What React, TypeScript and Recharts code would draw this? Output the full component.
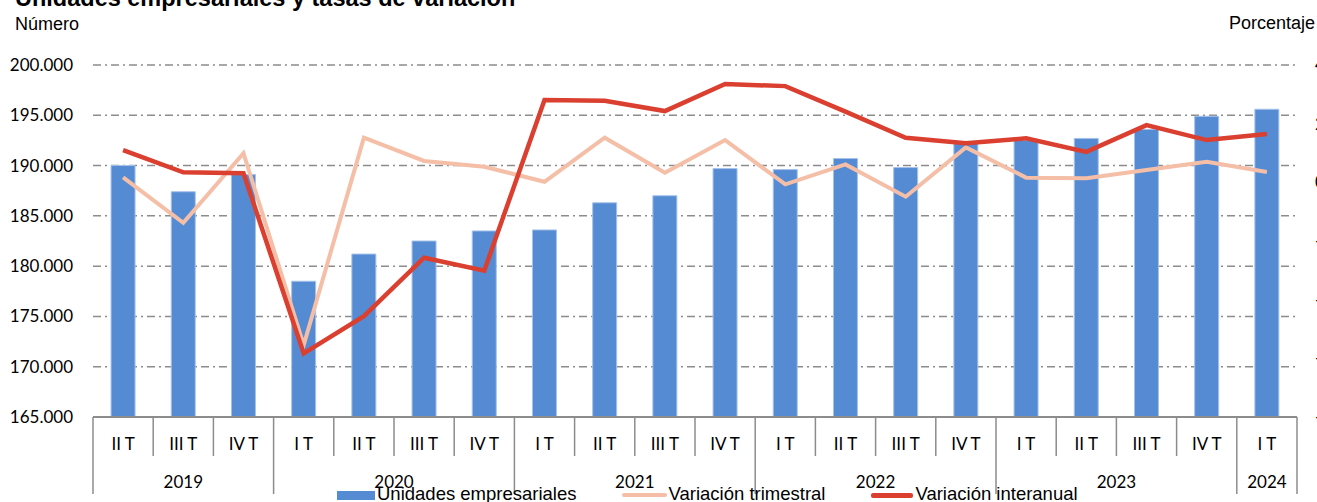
import React from "react";
import { Bar, CartesianGrid, ComposedChart, Legend, Line, XAxis, YAxis } from "recharts";

// Categorías: trimestres y años
const yearLabels = ["2019", "2020", "2021", "2022", "2023", "2024"];
const quartersPerYear = [3, 4, 4, 4, 4, 1];
const quarterLabels = [
  "II T", "III T", "IV T",
  "I T", "II T", "III T", "IV T",
  "I T", "II T", "III T", "IV T",
  "I T", "II T", "III T", "IV T",
  "I T", "II T", "III T", "IV T",
  "I T",
];

// Series
const unidades = [
  190000, 187400, 189100,
  178500, 181200, 182500, 183500,
  183600, 186300, 187000, 189700,
  189600, 190700, 189800, 192200,
  192500, 192700, 193600, 194900,
  195600,
];
const variacionTrimestral = [
  0.17, -1.38, 0.99,
  -5.55, 1.52, 0.73, 0.53,
  0.02, 1.52, 0.33, 1.44,
  -0.07, 0.61, -0.49, 1.19,
  0.16, 0.14, 0.42, 0.7,
  0.35,
];
const variacionInteranual = [
  1.1, 0.34, 0.31,
  -5.83, -4.56, -2.57, -3.01,
  2.81, 2.78, 2.43, 3.35,
  3.28, 2.41, 1.52, 1.33,
  1.5, 1.04, 1.95, 1.44,
  1.65,
];

const leftTicks = [165000, 170000, 175000, 180000, 185000, 190000, 195000, 200000];
const rightTicks = [-8, -6, -4, -2, 0, 2, 4];

const seriesNames = ["Unidades empresariales", "Variación trimestral", "Variación interanual"];

const W = 1317;
const H = 502;
const PLOT_LEFT = 93;
const PLOT_RIGHT = 1297;
const PLOT_TOP = 65;
const PLOT_BOTTOM = 417;
const BAND = (PLOT_RIGHT - PLOT_LEFT) / quarterLabels.length;

const BLUE = "#558bd3";
const PINK = "#f4bea7";
const RED = "#da3f2f";
const GRAY = "#8c8c8c";

const yearStarts: number[] = [];
quartersPerYear.reduce((acc, n) => {
  yearStarts.push(acc);
  return acc + n;
}, 0);

const data = quarterLabels.map((q, i) => ({
  key: String(i),
  quarter: q,
  unidades: unidades[i],
  trimestral: variacionTrimestral[i],
  interanual: variacionInteranual[i],
}));

const fmtMiles = (v: number) => `${Math.floor(v / 1000)}.${String(v % 1000).padStart(3, "0")}`;

const tickFont = { fontFamily: "Lato", fontSize: 17, fill: "#000" };

function QuarterTick(props: any) {
  const { x, index } = props;
  const left = x - BAND / 2;
  const y0 = PLOT_BOTTOM;
  const yi = yearStarts.indexOf(index);
  const isYearStart = yi >= 0;
  const isLast = index === quarterLabels.length - 1;
  return (
    <g>
      <line x1={left} x2={left} y1={y0} y2={isYearStart ? 494 : 456} stroke={GRAY} strokeWidth={1.5} />
      {isLast && <line x1={x + BAND / 2} x2={x + BAND / 2} y1={y0} y2={494} stroke={GRAY} strokeWidth={1.5} />}
      <text x={x} y={449.5} textAnchor="middle" {...tickFont}>
        {quarterLabels[index]}
      </text>
      {isYearStart && (
        <text x={left + (quartersPerYear[yi] * BAND) / 2} y={488} textAnchor="middle" {...tickFont}>
          {yearLabels[yi]}
        </text>
      )}
    </g>
  );
}

function LegendContent() {
  const icons = [
    <span style={{ display: "inline-block", width: 38, height: 9, marginTop: 6, background: BLUE }} />,
    <span style={{ display: "inline-block", width: 45, height: 4, marginTop: 8, background: PINK, borderRadius: 2 }} />,
    <span style={{ display: "inline-block", width: 42, height: 4.5, marginTop: 8, background: RED, borderRadius: 2 }} />,
  ];
  return (
    <div style={{ display: "flex", paddingLeft: 337, fontFamily: "Liberation Sans, Arial", fontSize: 18.5, lineHeight: "18.5px", color: "#000" }}>
      {seriesNames.map((name, i) => (
        <div key={name} style={{ display: "flex", alignItems: "flex-start", marginRight: i === 1 ? 46 : 45 }}>
          {icons[i]}
          <span style={{ marginLeft: 2, whiteSpace: "nowrap" }}>{name}</span>
        </div>
      ))}
    </div>
  );
}

export default function App() {
  return (
    <div style={{ position: "absolute", left: 0, top: 0, width: W, height: H, overflow: "hidden", background: "#fff" }}>
      <div
        style={{
          position: "absolute",
          left: 15,
          top: -13,
          fontFamily: "Liberation Sans, Arial",
          fontWeight: "bold",
          fontSize: 23.5,
          lineHeight: "23.5px",
          whiteSpace: "nowrap",
        }}
      >
        Unidades empresariales y tasas de variación
      </div>
      <div style={{ position: "absolute", left: 15, top: 15, fontFamily: "Liberation Sans, Arial", fontSize: 18, lineHeight: "18px" }}>
        Número
      </div>
      <div style={{ position: "absolute", left: 1229, top: 14, fontFamily: "Liberation Sans, Arial", fontSize: 18, lineHeight: "18px" }}>
        Porcentaje
      </div>
      <ComposedChart width={W} height={H} data={data} margin={{ top: PLOT_TOP, right: 0, bottom: 0, left: 0 }} barCategoryGap="30%">
        <CartesianGrid yAxisId="left" vertical={false} stroke={GRAY} strokeWidth={1.5} strokeDasharray="8 4 2 4" />
        <XAxis
          dataKey="key"
          height={H - PLOT_BOTTOM}
          interval={0}
          tickLine={false}
          axisLine={{ stroke: GRAY, strokeWidth: 2 }}
          tick={<QuarterTick />}
        />
        <YAxis
          yAxisId="left"
          width={PLOT_LEFT}
          domain={[165000, 200000]}
          ticks={leftTicks}
          tickFormatter={fmtMiles}
          axisLine={false}
          tickLine={false}
          tickSize={0}
          tickMargin={20}
          tick={tickFont}
        />
        <YAxis
          yAxisId="right"
          orientation="right"
          width={W - PLOT_RIGHT}
          domain={[-8, 4]}
          ticks={rightTicks}
          axisLine={false}
          tickLine={false}
          tickSize={0}
          tickMargin={18}
          tick={tickFont}
        />
        <Bar yAxisId="left" dataKey="unidades" name={seriesNames[0]} fill={BLUE} stroke="#a6c2ea" strokeWidth={1} isAnimationActive={false} />
        <Line yAxisId="right" dataKey="trimestral" name={seriesNames[1]} stroke={PINK} strokeWidth={4} dot={false} activeDot={false} isAnimationActive={false} />
        <Line yAxisId="right" dataKey="interanual" name={seriesNames[2]} stroke={RED} strokeWidth={4.5} dot={false} activeDot={false} isAnimationActive={false} />
        <Legend
          layout="horizontal"
          verticalAlign="middle"
          align="center"
          wrapperStyle={{ top: 485, left: 0, width: W }}
          content={<LegendContent />}
        />
      </ComposedChart>
    </div>
  );
}
